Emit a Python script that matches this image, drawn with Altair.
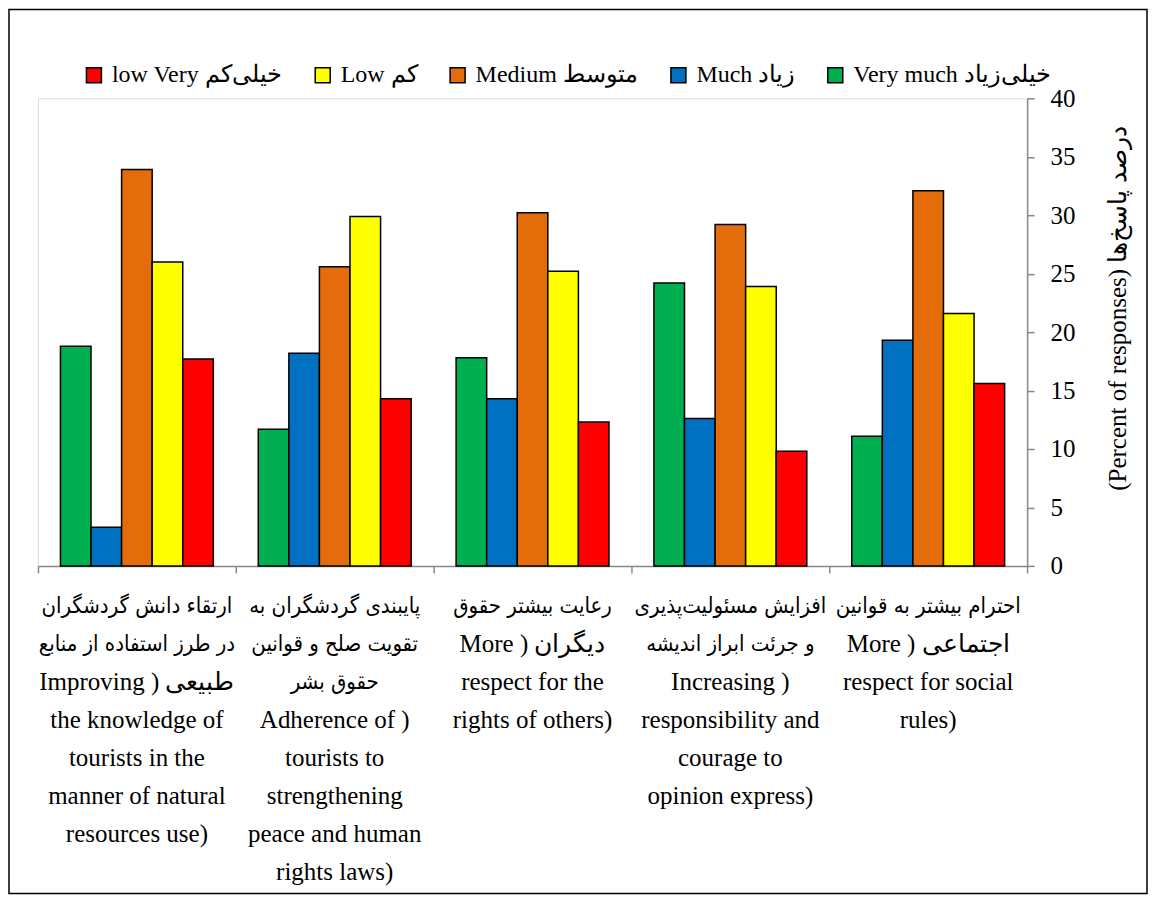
import altair as alt
import pandas as pd

# Category labels: Persian lines and (mostly) English lines, as printed under each group
persian_lines = [
    ["ارتقاء دانش گردشگران", "در طرز استفاده از منابع"],
    ["پایبندی گردشگران به", "تقویت صلح و قوانین", "حقوق بشر"],
    ["رعایت بیشتر حقوق"],
    ["افزایش مسئولیت‌پذیری", "و جرئت ابراز اندیشه"],
    ["احترام بیشتر به قوانین"],
]
english_lines = [
    ["Improving ) طبیعی", "the knowledge of", "tourists in the", "manner of natural", "resources use)"],
    ["Adherence of )", "tourists to", "strengthening", "peace and human", "rights laws)"],
    ["More ) دیگران", "respect for the", "rights of others)"],
    ["Increasing )", "responsibility and", "courage to", "opinion express)"],
    ["More ) اجتماعی", "respect for social", "rules)"],
]
categories = [p[0] for p in persian_lines]

levels = ["Very much خیلی‌زیاد", "Much زیاد", "Medium متوسط", "Low کم", "low Very خیلی‌کم"]
colors = ["#00B050", "#0070C0", "#E46C0A", "#FFFF00", "#FF0000"]

very_much = [18.8, 11.7, 17.8, 24.2, 11.1]
much = [3.3, 18.2, 14.3, 12.6, 19.3]
medium = [33.9, 25.6, 30.2, 29.2, 32.1]
low = [26.0, 29.9, 25.2, 23.9, 21.6]
very_low = [17.7, 14.3, 12.3, 9.8, 15.6]

series = [very_much, much, medium, low, very_low]
rows = []
for lvl, vals in zip(levels, series):
    for cat, v in zip(categories, vals):
        rows.append({"cat": cat, "level": lvl, "value": v})
df = pd.DataFrame(rows)

# one row per printed label line (row = line number under the axis)
lab_rows = []
for cat, fa, en in zip(categories, persian_lines, english_lines):
    for i, t in enumerate(fa):
        lab_rows.append({"cat": cat, "row": i, "text": t, "script": "fa"})
    for j, t in enumerate(en):
        lab_rows.append({"cat": cat, "row": len(fa) + j, "text": t, "script": "en"})
label_df = pd.DataFrame(lab_rows)

legend_order = list(reversed(levels))
legend_colors = list(reversed(colors))

FONT = "Liberation Serif"
FA_FONT = "DejaVu Sans Condensed"
LINE_H = 38
FIRST_LINE = 508
N_ROWS = 7

xenc = alt.X(
    "cat:N",
    sort=categories,
    scale=alt.Scale(paddingInner=0, paddingOuter=0),
    axis=alt.Axis(
        title=None,
        labels=False,
        tickBand="extent",
        tickSize=7,
        tickColor="#898989",
        tickWidth=1.5,
        domainColor="#898989",
        domainWidth=1.5,
    ),
)

bars = alt.Chart(df).mark_bar(stroke="black", strokeWidth=1.5).encode(
    x=xenc,
    xOffset=alt.XOffset(
        "level:N",
        sort=levels,
        scale=alt.Scale(paddingInner=0, paddingOuter=0.735),
    ),
    y=alt.Y(
        "value:Q",
        scale=alt.Scale(domain=[0, 40]),
        axis=alt.Axis(
            orient="right",
            values=[0, 5, 10, 15, 20, 25, 30, 35, 40],
            grid=False,
            title="(Percent of responses) درصد پاسخ‌ها",
            titleAngle=270,
            titleFontSize=25,
            titleFontWeight="normal",
            titleFont=FONT,
            titleColor="black",
            titlePadding=55,
            titleY=210,
            labelFontSize=25,
            labelFont=FONT,
            labelColor="black",
            labelPadding=16,
            tickSize=7,
            tickColor="#898989",
            tickWidth=1.5,
            domainColor="#898989",
            domainWidth=1.5,
        ),
    ),
    color=alt.Color(
        "level:N",
        scale=alt.Scale(domain=legend_order, range=legend_colors),
        legend=alt.Legend(
            title=None,
            orient="none",
            legendX=44,
            legendY=-35,
            direction="horizontal",
            symbolType="square",
            symbolSize=225,
            symbolStrokeColor="black",
            symbolStrokeWidth=1.5,
            symbolOpacity=1,
            labelFontSize=24,
            labelFont=FONT,
            labelColor="black",
            labelOffset=6,
            columnPadding=28,
            labelLimit=0,
        ),
    ),
)

row_y = alt.Y(
    "row:Q",
    scale=alt.Scale(domain=[0, N_ROWS], range=[FIRST_LINE, FIRST_LINE + N_ROWS * LINE_H]),
    axis=None,
)

fa_text = alt.Chart(label_df).transform_filter(
    alt.datum.script == "fa"
).mark_text(
    font=FA_FONT, fontSize=22, baseline="middle", align="center", color="black",
).encode(
    x=alt.X("cat:N", sort=categories),
    y=row_y,
    text="text:N",
)

en_text = alt.Chart(label_df).transform_filter(
    alt.datum.script == "en"
).mark_text(
    font=FONT, fontSize=25, baseline="middle", align="center", color="black",
).encode(
    x=alt.X("cat:N", sort=categories),
    y=row_y,
    text="text:N",
)

frame = alt.Chart(pd.DataFrame({"a": [0]})).mark_rect(
    filled=False, stroke="black", strokeWidth=1.5
).encode(
    x=alt.value(-29),
    x2=alt.value(1110),
    y=alt.value(-89),
    y2=alt.value(796),
)

chart = alt.layer(frame, bars, fa_text, en_text).resolve_scale(
    y="independent"
).properties(
    width=990, height=468, padding=0
).configure_view(strokeWidth=0).configure(font=FONT)

chart.save("out.html", embed_options={"renderer": "svg", "actions": False})
